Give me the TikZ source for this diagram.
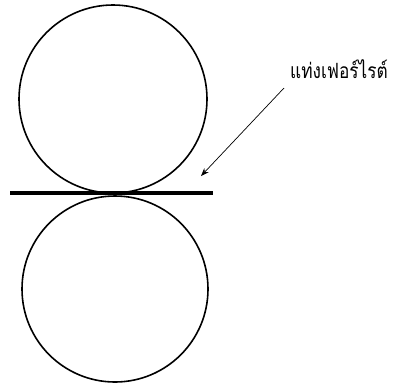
\documentclass[tikz,border=0pt]{standalone}
\usepackage{fontspec}
\newfontfamily\thaifont[Script=Thai]{Loma}
\usetikzlibrary{arrows.meta}
\begin{document}
\begin{tikzpicture}[x=1pt,y=-1pt,
  roller/.style={draw=black,line width=1.6pt},
  rod/.style={draw=black,line width=3.6pt},
  pointer/.style={draw=black,line width=0.7pt,-{Stealth[length=8pt,width=6pt]}},
  label/.style={font=\thaifont\fontsize{21}{24}\selectfont,inner sep=0pt,anchor=base,xscale=0.82}]
\useasboundingbox (0,0) rectangle (393,384);
\node[roller,circle,minimum size=188pt,inner sep=0pt] (top) at (113,99) {};
\node[roller,circle,minimum size=186pt,inner sep=0pt] (bot) at (115,289) {};
\coordinate (rodL) at (10,193);
\coordinate (rodR) at (213,193);
\draw[rod] (rodL) -- (rodR);
\node[label] (txt) at (339,78) {แท่งเฟอร์ไรต์};
\coordinate (ps) at (284,88);
\coordinate (pe) at (201,176);
\draw[pointer] (ps) -- (pe);
\end{tikzpicture}
\end{document}
